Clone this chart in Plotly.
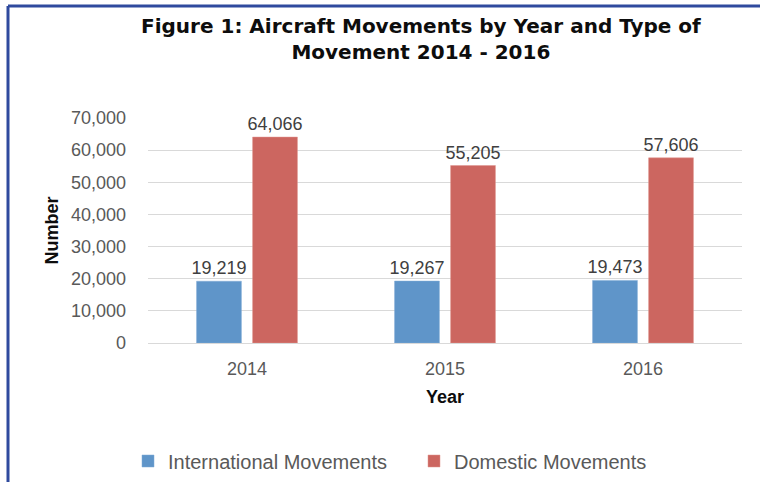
import plotly.graph_objects as go

# Data
years = ["2014", "2015", "2016"]
international = [19219, 19267, 19473]
domestic = [64066, 55205, 57606]

W, H = 760, 482
L, R, T, B = 148, 18, 118, 139
pw, ph = W - L - R, H - T - B
FONT = "Liberation Sans"


def px_x(x):
    return (x - L) / pw


def px_y(y):
    return (H - B - y) / ph


fig = go.Figure()

fig.add_trace(go.Bar(x=years, y=international, name="International Movements",
                     marker=dict(color="#5F95C9", line=dict(color="#7FAAD6", width=0.5)),
                     text=[f"{v:,}" for v in international], textposition="outside",
                     constraintext="none",
                     textfont=dict(size=18, color="#404040"), cliponaxis=False))
fig.add_trace(go.Bar(x=years, y=domestic, name="Domestic Movements",
                     marker=dict(color="#CC6660", line=dict(color="#E0948F", width=0.5)),
                     text=[f"{v:,}" for v in domestic], textposition="outside",
                     constraintext="none",
                     textfont=dict(size=18, color="#404040"), cliponaxis=False))

fig.update_layout(
    width=W, height=H,
    margin=dict(l=L, r=R, t=T, b=B, autoexpand=False),
    paper_bgcolor="white", plot_bgcolor="white",
    font=dict(family=FONT, color="#595959", size=18),
    barmode="group", bargap=0.434, bargroupgap=0.2,
    showlegend=True,
    legend=dict(orientation="h", x=px_x(128), xanchor="left", y=px_y(461), yanchor="middle",
                font=dict(size=20, color="#595959"), itemwidth=30, entrywidth=241,
                traceorder="normal"),
    annotations=[dict(
        text="Figure 1: Aircraft Movements by Year and Type of<br>Movement 2014 - 2016",
        xref="paper", yref="paper", x=px_x(421), y=px_y(39), xanchor="center", yanchor="middle",
        showarrow=False, font=dict(family="DejaVu Sans", size=20, color="#0D0D0D", weight="bold"))],
    shapes=[
        dict(type="line", xref="paper", yref="paper", x0=px_x(8), x1=px_x(760),
             y0=px_y(6), y1=px_y(6), line=dict(color="#2F4A9E", width=3)),
        dict(type="line", xref="paper", yref="paper", x0=px_x(8), x1=px_x(8),
             y0=px_y(6), y1=px_y(482), line=dict(color="#2F4A9E", width=3)),
    ],
)

fig.update_yaxes(range=[0, 70000], dtick=10000, tickformat=",", showgrid=True,
                 gridcolor="#D9D9D9", gridwidth=1, zeroline=False, showline=False,
                 ticklabelstandoff=21,
                 title=dict(text="<b>Number</b>", font=dict(size=18, color="#0D0D0D"), standoff=7))
fig.update_xaxes(showline=True, linecolor="#D9D9D9", linewidth=1, ticklabelstandoff=9,
                 title=dict(text="<b>Year</b>", font=dict(size=18, color="#0D0D0D"), standoff=12))

# page body has a default 8px margin; drop it so the figure sits at the window origin
fig.write_html("out.html", config={"displayModeBar": False},
               post_script="document.body.style.margin='0';")
